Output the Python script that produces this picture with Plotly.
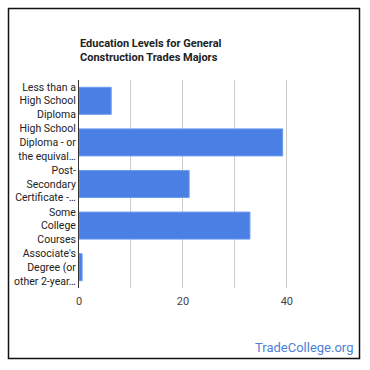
import plotly.graph_objects as go

categories = [
    "Less than a<br>High School<br>Diploma",
    "High School<br>Diploma - or<br>the equival…",
    "Post-<br>Secondary<br>Certificate -…",
    "Some<br>College<br>Courses",
    "Associate's<br>Degree (or<br>other 2-year…",
]
values = [6.2, 39.2, 21.2, 32.9, 0.6]
tick_vals = [0, 10, 20, 30, 40]
tick_text = ["0", "", "20", "", "40"]

W, H = 370, 370
L, R, T, B = 79, 331, 80, 288

def px_x(p):
    return (p - L) / (R - L)

def px_y(p):
    return (B - p) / (B - T)

fig = go.Figure(go.Bar(
    x=values, y=categories, orientation="h",
    marker=dict(color="#4a7fe3", line=dict(width=1, color="#6f9bf0")),
    width=0.65, hoverinfo="x+y",
))

fig.update_layout(
    width=W, height=H,
    margin=dict(l=L, r=W - R, t=T, b=H - B, pad=0, autoexpand=False),
    paper_bgcolor="white", plot_bgcolor="white",
    showlegend=False,
    font=dict(family="Roboto, Arial, sans-serif", size=11, color="#222222"),
    bargap=0.35,
    xaxis=dict(
        range=[0, 48.5], tickvals=tick_vals, ticktext=tick_text,
        showgrid=True, gridcolor="#cccccc", gridwidth=1,
        zeroline=False, showline=False, ticks="", automargin=False,
        ticklabelstandoff=5,
        tickfont=dict(size=11, color="#444444"),
        fixedrange=True,
    ),
    yaxis=dict(
        autorange="reversed", showgrid=False, ticks="", automargin=False,
        showline=True, linecolor="#333333", linewidth=1,
        tickfont=dict(size=10.5, color="#222222"),
        fixedrange=True,
    ),
    shapes=[
        dict(type="rect", xref="paper", yref="paper",
             x0=px_x(8.5), x1=px_x(359.5), y0=px_y(358.5), y1=px_y(8.5),
             line=dict(color="#111111", width=1.5), fillcolor="rgba(0,0,0,0)",
             layer="below"),
    ],
    annotations=[
        dict(text="<b>Education Levels for General<br>Construction Trades Majors</b>",
             xref="paper", yref="paper", x=px_x(78), y=px_y(35),
             xanchor="left", yanchor="top", align="left", showarrow=False,
             font=dict(size=11, color="#222222")),
        dict(text="TradeCollege.org",
             xref="paper", yref="paper", x=px_x(355), y=px_y(347),
             xanchor="right", yanchor="middle", showarrow=False,
             font=dict(size=13, color="#4d7fd6")),
    ],
)

fig.write_html("out.html", config={"displayModeBar": False},
               post_script="document.body.style.margin='0';document.body.style.overflow='hidden';")
